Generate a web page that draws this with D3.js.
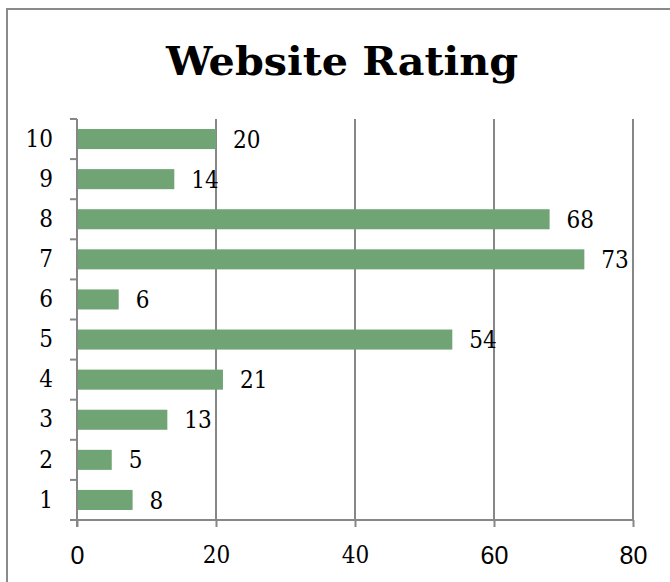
<!DOCTYPE html>
<html>
<head>
<meta charset="utf-8">
<script src="https://d3js.org/d3.v7.min.js"></script>
<style>
  body { margin: 0px; background: #fff; }
</style>
</head>
<body>
<div id="my_dataviz"></div>
<script>
// chart data
var categories = ["1", "2", "3", "4", "5", "6", "7", "8", "9", "10"];
var ratings = [8, 5, 13, 21, 54, 6, 73, 68, 14, 20];
var xTicks = [0, 20, 40, 60, 80];
var sansTicks = [0, 60, 80];   // these print in a sans face in the original
var title = "Website Rating";

var W = 670, H = 582;
var margin = { left: 77, right: 633, top: 119, bottom: 520 };
var gridColor = "#878787";
var serifFont = "'DejaVu Serif Condensed', 'DejaVu Serif', serif";
var sansFont = "'Liberation Sans', Arial, sans-serif";

var svg = d3.select("#my_dataviz")
  .append("svg")
  .attr("width", W)
  .attr("height", H);

// outer frame (runs off the right and bottom edges)
svg.append("rect")
  .attr("x", 7).attr("y", 9)
  .attr("width", W + 20).attr("height", H + 20)
  .attr("fill", "#fff")
  .attr("stroke", "#8a8a8a")
  .attr("stroke-width", 2);

svg.append("text")
  .attr("x", 342).attr("y", 75)
  .attr("text-anchor", "middle")
  .attr("textLength", 352)
  .attr("lengthAdjust", "spacingAndGlyphs")
  .style("font-family", serifFont)
  .style("font-size", "40px")
  .style("font-weight", "bold")
  .text(title);

var x = d3.scaleLinear().domain([0, 80]).range([margin.left, margin.right]);
var y = d3.scaleBand().domain(categories).range([margin.bottom, margin.top])
  .paddingInner(0.5).paddingOuter(0.25);

// vertical gridlines
svg.append("g").selectAll("line")
  .data(xTicks.filter(function (d) { return d > 0; }))
  .enter().append("line")
  .attr("x1", function (d) { return x(d); })
  .attr("x2", function (d) { return x(d); })
  .attr("y1", margin.top).attr("y2", margin.bottom)
  .attr("stroke", gridColor).attr("stroke-width", 2);

// bars
svg.append("g").selectAll("rect")
  .data(categories)
  .enter().append("rect")
  .attr("x", x(0))
  .attr("y", function (d) { return y(d); })
  .attr("width", function (d, i) { return x(ratings[i]) - x(0); })
  .attr("height", y.bandwidth())
  .attr("fill", "#71a475");

// value labels
svg.append("g").selectAll("text")
  .data(categories)
  .enter().append("text")
  .attr("x", function (d, i) { return x(ratings[i]) + 17; })
  .attr("y", function (d) { return y(d) + y.bandwidth() / 2; })
  .attr("dy", "0.36em")
  .style("font-family", serifFont)
  .style("font-size", "24px")
  .text(function (d, i) { return ratings[i]; });

// x axis
var xAxisG = svg.append("g")
  .attr("transform", "translate(0," + margin.bottom + ")")
  .call(d3.axisBottom(x).tickValues(xTicks).tickSize(7).tickPadding(19));
xAxisG.select(".domain").remove();
xAxisG.selectAll(".tick line").attr("stroke", gridColor).attr("stroke-width", 2);
xAxisG.selectAll(".tick text")
  .attr("fill", "#000")
  .style("font-family", function (d) { return sansTicks.indexOf(d) >= 0 ? sansFont : serifFont; })
  .style("font-size", function (d) { return sansTicks.indexOf(d) >= 0 ? "25px" : "24px"; });
svg.append("line")
  .attr("x1", margin.left - 7).attr("x2", margin.right)
  .attr("y1", margin.bottom).attr("y2", margin.bottom)
  .attr("stroke", gridColor).attr("stroke-width", 2);

// y axis
var yAxisG = svg.append("g")
  .attr("transform", "translate(" + margin.left + ",0)")
  .call(d3.axisLeft(y).tickSize(0).tickPadding(24));
yAxisG.select(".domain").remove();
yAxisG.selectAll(".tick text")
  .attr("fill", "#000")
  .style("font-family", serifFont)
  .style("font-size", "24px");
svg.append("line")
  .attr("x1", margin.left).attr("x2", margin.left)
  .attr("y1", margin.top).attr("y2", margin.bottom + 7)
  .attr("stroke", gridColor).attr("stroke-width", 2);

// ticks between categories
var bounds = categories.map(function (c) { return y(c) - y.step() * 0.25; });
svg.append("g").selectAll("line")
  .data(bounds)
  .enter().append("line")
  .attr("x1", margin.left - 7).attr("x2", margin.left)
  .attr("y1", function (d) { return d; })
  .attr("y2", function (d) { return d; })
  .attr("stroke", gridColor).attr("stroke-width", 2);
</script>
</body>
</html>
